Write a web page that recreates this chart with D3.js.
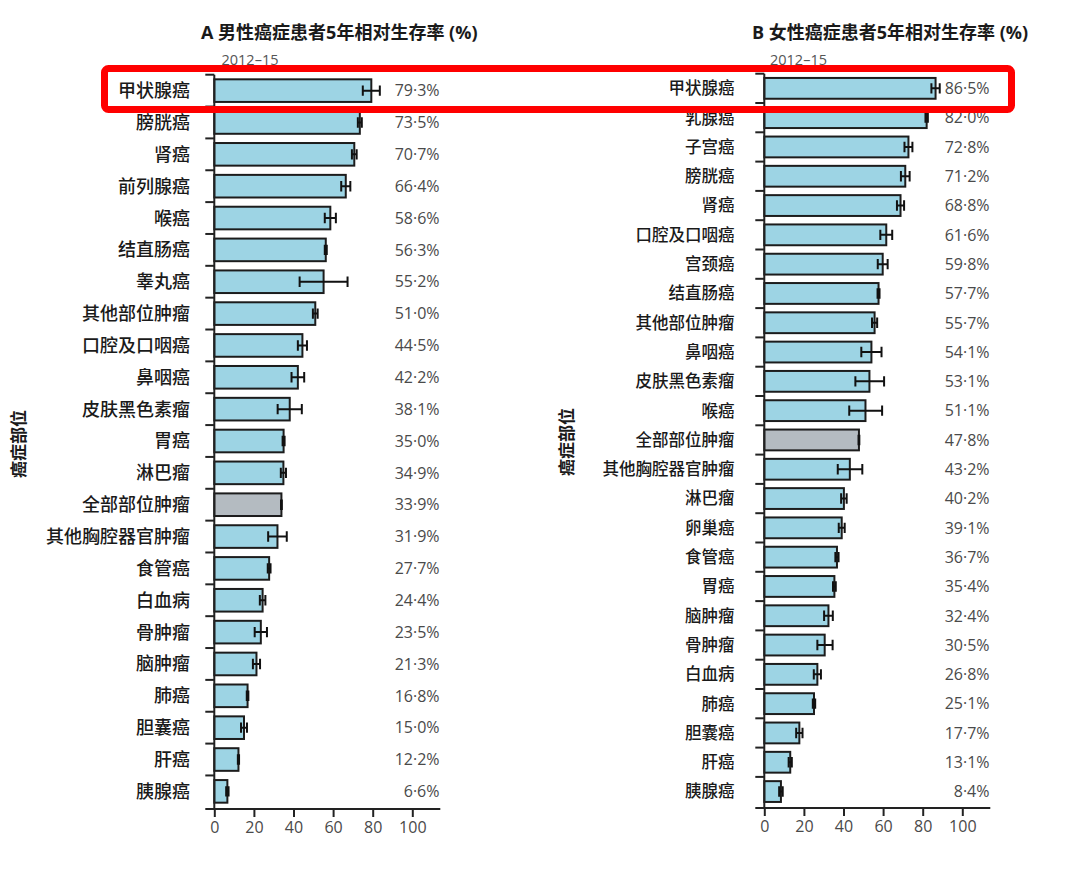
<!DOCTYPE html>
<html>
<head>
<meta charset="utf-8">
<script src="https://cdn.jsdelivr.net/npm/d3@7"></script>
<style>
  body { margin: 0; background: #fff; }
  svg { display: block; }
</style>
</head>
<body>
<svg width="1080" height="872"></svg>
<script>
// data (5-year relative survival, 2012-15, with 95% CI)
var maleSites = ['甲状腺癌', '膀胱癌', '肾癌', '前列腺癌', '喉癌', '结直肠癌', '睾丸癌', '其他部位肿瘤',
  '口腔及口咽癌', '鼻咽癌', '皮肤黑色素瘤', '胃癌', '淋巴瘤', '全部部位肿瘤', '其他胸腔器官肿瘤',
  '食管癌', '白血病', '骨肿瘤', '脑肿瘤', '肺癌', '胆囊癌', '肝癌', '胰腺癌'];
var maleRate = [79.3, 73.5, 70.7, 66.4, 58.6, 56.3, 55.2, 51.0, 44.5, 42.2, 38.1, 35.0, 34.9, 33.9, 31.9,
  27.7, 24.4, 23.5, 21.3, 16.8, 15.0, 12.2, 6.6];
var maleLow = [75.0, 72.5, 69.5, 64.1, 55.8, 55.8, 43.1, 49.8, 42.2, 39.0, 32.0, 34.5, 33.6, 33.7, 27.2,
  27.0, 23.0, 20.4, 19.5, 16.4, 13.5, 11.9, 6.0];
var maleHigh = [83.6, 74.5, 71.9, 68.7, 61.4, 56.8, 67.3, 52.2, 46.8, 45.4, 44.2, 35.5, 36.2, 34.1, 36.6,
  28.4, 25.8, 26.6, 23.1, 17.2, 16.5, 12.5, 7.2];

var femaleSites = ['甲状腺癌', '乳腺癌', '子宫癌', '膀胱癌', '肾癌', '口腔及口咽癌', '宫颈癌', '结直肠癌',
  '其他部位肿瘤', '鼻咽癌', '皮肤黑色素瘤', '喉癌', '全部部位肿瘤', '其他胸腔器官肿瘤', '淋巴瘤', '卵巢癌',
  '食管癌', '胃癌', '脑肿瘤', '骨肿瘤', '白血病', '肺癌', '胆囊癌', '肝癌', '胰腺癌'];
var femaleRate = [86.5, 82.0, 72.8, 71.2, 68.8, 61.6, 59.8, 57.7, 55.7, 54.1, 53.1, 51.1, 47.8, 43.2, 40.2,
  39.1, 36.7, 35.4, 32.4, 30.5, 26.8, 25.1, 17.7, 13.1, 8.4];
var femaleLow = [84.4, 81.4, 70.8, 69.0, 67.0, 58.6, 57.3, 57.2, 54.4, 49.0, 46.0, 42.9, 47.6, 37.1, 38.8,
  37.6, 35.9, 34.7, 30.2, 26.8, 25.0, 24.5, 16.1, 12.3, 7.5];
var femaleHigh = [88.6, 82.6, 74.8, 73.4, 70.6, 64.6, 62.3, 58.2, 57.0, 59.2, 60.5, 59.5, 48.0, 49.5, 41.6,
  40.6, 37.5, 36.1, 34.6, 34.5, 28.6, 25.7, 19.3, 13.9, 9.3];

var xTicks = [0, 20, 40, 60, 80, 100];
var allSites = '全部部位肿瘤';
var titleA = 'A 男性癌症患者5年相对生存率 (%)';
var titleB = 'B 女性癌症患者5年相对生存率 (%)';
var period = '2012–15';
var yTitle = '癌症部位';

var svg = d3.select('svg');
var latin = '"Open Sans","Noto Sans CJK SC",sans-serif';
var cjk = '"Noto Sans CJK SC",sans-serif';
var fmt = d3.format('.1f');

function drawPanel(p) {
  var g = svg.append('g');
  var rows = p.sites.map((s, i) => ({ site: s, v: p.rate[i], lo: p.low[i], hi: p.high[i] }));

  var x = d3.scaleLinear().domain([0, 100]).range([p.axisX, p.axisX + 198]);
  var y = d3.scaleBand().domain(p.sites).range(p.yRange).paddingInner(0.29).paddingOuter(0.145);
  var off = y.step() * 0.145;

  // bars
  g.selectAll('rect.bar').data(rows).enter().append('rect')
    .attr('class', 'bar')
    .attr('x', x(0))
    .attr('y', d => y(d.site))
    .attr('width', d => x(d.v) - x(0))
    .attr('height', y.bandwidth())
    .attr('fill', d => d.site === allSites ? '#b4bbc1' : '#9dd4e4')
    .attr('stroke', '#1c1c1c')
    .attr('stroke-width', 2);

  // error bars
  var cap = 5.2;
  g.selectAll('path.ci').data(rows).enter().append('path')
    .attr('class', 'ci')
    .attr('d', d => {
      var cy = y(d.site) + y.bandwidth() / 2;
      return 'M' + x(d.lo) + ',' + cy + 'H' + x(d.hi) +
        'M' + x(d.lo) + ',' + (cy - cap) + 'V' + (cy + cap) +
        'M' + x(d.hi) + ',' + (cy - cap) + 'V' + (cy + cap);
    })
    .attr('fill', 'none')
    .attr('stroke', '#111')
    .attr('stroke-width', 2);

  // y axis with ticks on band edges
  g.append('line')
    .attr('x1', p.axisX).attr('x2', p.axisX)
    .attr('y1', p.yRange[0]).attr('y2', p.axisY)
    .attr('stroke', '#222').attr('stroke-width', 2);
  g.selectAll('line.ytick').data(p.sites).enter().append('line')
    .attr('class', 'ytick')
    .attr('x1', p.axisX - 9).attr('x2', p.axisX)
    .attr('y1', d => y(d) - off).attr('y2', d => y(d) - off)
    .attr('stroke', '#222').attr('stroke-width', 2);

  // category labels
  g.selectAll('text.site').data(rows).enter().append('text')
    .attr('class', 'site')
    .attr('x', p.labelX)
    .attr('y', d => y(d.site) + y.bandwidth() / 2)
    .attr('dy', '0.36em')
    .attr('text-anchor', 'end')
    .style('font-family', cjk)
    .style('font-size', p.labelSize + 'px')
    .style('font-weight', 500)
    .attr('fill', '#1a1a1a')
    .text(d => d.site);

  // value labels
  g.selectAll('text.val').data(rows).enter().append('text')
    .attr('class', 'val')
    .attr('x', p.valueX)
    .attr('y', d => y(d.site) + y.bandwidth() / 2)
    .attr('dy', '0.36em')
    .attr('text-anchor', 'end')
    .style('font-family', latin)
    .style('font-size', '16px')
    .attr('fill', '#4a4a4a')
    .text(d => fmt(d.v).replace('.', '·') + '%');

  // x axis
  var ax = g.append('g')
    .attr('transform', 'translate(0,' + p.axisY + ')')
    .call(d3.axisBottom(x).tickValues(xTicks).tickSize(8).tickPadding(5));
  ax.select('.domain').remove();
  ax.selectAll('.tick line').attr('stroke', '#222').attr('stroke-width', 2);
  ax.selectAll('.tick text')
    .style('font-family', latin)
    .style('font-size', '16px')
    .attr('fill', '#4a4a4a');
  ax.append('line')
    .attr('x1', p.axisX - 9).attr('x2', p.axisX + 226)
    .attr('stroke', '#222').attr('stroke-width', 2);

  // titles
  g.append('text')
    .attr('x', p.titleX).attr('y', 39)
    .style('font-family', latin)
    .style('font-size', '18px')
    .style('font-weight', 'bold')
    .attr('fill', '#1a1a1a')
    .text(p.title);
  g.append('text')
    .attr('x', p.periodX).attr('y', 65)
    .style('font-family', latin)
    .style('font-size', '14.5px')
    .attr('fill', '#555')
    .text(period);
  g.append('text')
    .attr('transform', 'translate(' + p.yTitleX + ',' + p.yTitleY + ') rotate(-90)')
    .attr('text-anchor', 'middle')
    .attr('dy', '0.36em')
    .style('font-family', cjk)
    .style('font-size', '17px')
    .style('font-weight', 'bold')
    .attr('fill', '#1a1a1a')
    .text(yTitle);
}

drawPanel({
  sites: maleSites, rate: maleRate, low: maleLow, high: maleHigh,
  axisX: 214.3, yRange: [74.7, 807.3], axisY: 809,
  labelX: 190, valueX: 439.5, labelSize: 18,
  title: titleA, titleX: 201, periodX: 221.5,
  yTitleX: 19, yTitleY: 444
});

drawPanel({
  sites: femaleSites, rate: femaleRate, low: femaleLow, high: femaleHigh,
  axisX: 764.3, yRange: [73.7, 806.2], axisY: 808,
  labelX: 734.5, valueX: 989.5, labelSize: 16.5,
  title: titleB, titleX: 752, periodX: 770,
  yTitleX: 567, yTitleY: 442
});

// highlight box round the thyroid row
svg.append('rect')
  .attr('x', 104.5).attr('y', 68.5)
  .attr('width', 907).attr('height', 41)
  .attr('rx', 4)
  .attr('fill', 'none')
  .attr('stroke', '#ff0000')
  .attr('stroke-width', 7);
</script>
</body>
</html>
